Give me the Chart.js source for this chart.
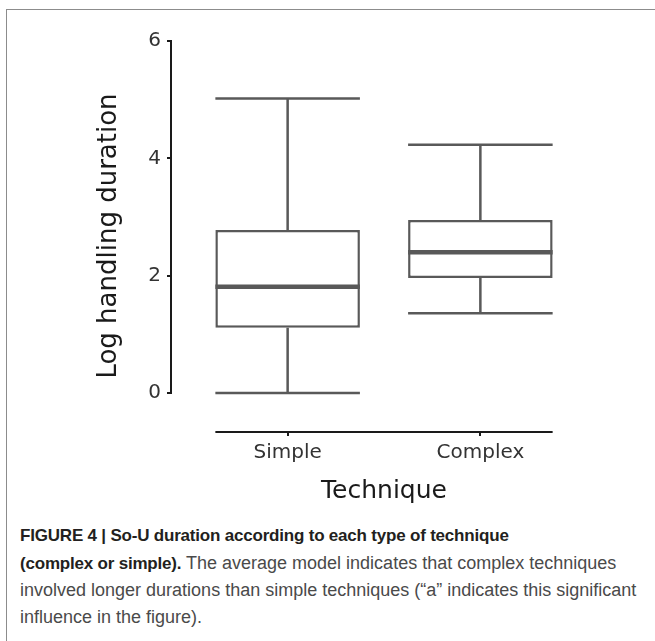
<!DOCTYPE html>
<html>
<head>
<meta charset="utf-8">
<script src="https://cdn.jsdelivr.net/npm/chart.js@4/dist/chart.umd.min.js"></script>
<style>
  body { margin: 0; background: #fff; width: 655px; height: 641px; overflow: hidden; position: relative; }
  #frame { position: absolute; left: 6px; top: 9px; right: 0; bottom: 0; border-top: 1.5px solid #8c8c8c; border-left: 1.5px solid #8c8c8c; }
  #myChart { position: absolute; left: 0; top: 0; }
  #caption { position: absolute; left: 20px; top: 522px; white-space: nowrap; font-family: "Liberation Sans", Arial, sans-serif; font-size: 18px; line-height: 26.5px; color: #4a4a4a; }
  #caption b { color: #231f20; font-size: 17px; letter-spacing: -0.2px; }
</style>
</head>
<body>
<div id="frame"></div>
<canvas id="myChart" width="655" height="520"></canvas>
<div id="caption"><b>FIGURE 4 | So-U duration according to each type of technique<br>(complex or simple).</b> The average model indicates that complex techniques<br>involved longer durations than simple techniques (“a” indicates this significant<br>influence in the figure).</div>
<script>
// boxplot stats
const categories = ["Simple", "Complex"];
const mins = [0.0, 1.36];
const q1s = [1.11, 1.96];
const medians = [1.81, 2.40];
const q3s = [2.78, 2.95];
const maxs = [5.02, 4.23];
const yTicks = [0, 2, 4, 6];

const half = 0.375;
const lineColor = "#595959";
const axisColor = "#1a1a1a";

var boxes = [];
var stems = [];
var caps = [];
var meds = [];

categories.forEach((c, i) => {
  const x = i + 1;
  boxes.push({ x: x, y: [q1s[i], q3s[i]] });
  stems.push({ x: x, y: q3s[i] }, { x: x, y: maxs[i] }, { x: x, y: null });
  stems.push({ x: x, y: q1s[i] }, { x: x, y: mins[i] }, { x: x, y: null });
  caps.push({ x: x - half, y: maxs[i] }, { x: x + half, y: maxs[i] }, { x: x, y: null });
  caps.push({ x: x - half, y: mins[i] }, { x: x + half, y: mins[i] }, { x: x, y: null });
  meds.push({ x: x - half, y: medians[i] }, { x: x + half, y: medians[i] }, { x: x, y: null });
});

// axis lines capped to the data range, like the ggplot original
const cappedAxes = {
  id: "cappedAxes",
  afterDraw(chart) {
    const { ctx, chartArea, scales } = chart;
    ctx.save();
    ctx.strokeStyle = axisColor;
    ctx.lineWidth = 2;
    ctx.beginPath();
    ctx.moveTo(chartArea.left - 1, scales.y.getPixelForValue(yTicks[yTicks.length - 1]));
    ctx.lineTo(chartArea.left - 1, scales.y.getPixelForValue(yTicks[0]));
    ctx.moveTo(scales.x.getPixelForValue(1 - half), chartArea.bottom + 1);
    ctx.lineTo(scales.x.getPixelForValue(categories.length + half), chartArea.bottom + 1);
    ctx.stroke();
    ctx.restore();
  },
};

const lineDefaults = {
  type: "line",
  borderColor: lineColor,
  borderWidth: 2.5,
  pointRadius: 0,
  fill: false,
  tension: 0,
  spanGaps: false,
};

const ctx = document.getElementById("myChart");
new Chart(ctx, {
  type: "line",
  data: {
    datasets: [
      {
        type: "bar",
        data: boxes,
        backgroundColor: "#ffffff",
        borderColor: lineColor,
        borderWidth: 2.5,
        borderSkipped: false,
        barPercentage: 2 * half,
        categoryPercentage: 1,
        order: 3,
      },
      Object.assign({}, lineDefaults, { data: stems, order: 2 }),
      Object.assign({}, lineDefaults, { data: caps, order: 1 }),
      Object.assign({}, lineDefaults, { data: meds, borderWidth: 4.5, order: 0 }),
    ],
  },
  options: {
    responsive: false,
    animation: false,
    devicePixelRatio: 1,
    layout: { padding: { top: 41, right: 59, left: 0, bottom: 0 } },
    plugins: { legend: { display: false }, tooltip: { enabled: false } },
    scales: {
      x: {
        type: "linear",
        min: 0.4,
        max: 2.6,
        offset: false,
        afterBuildTicks: (scale) => {
          scale.ticks = categories.map((c, i) => ({ value: i + 1 }));
        },
        afterFit: (scale) => {
          scale.height = 89;
        },
        ticks: {
          callback: (v) => categories[v - 1],
          color: "#333333",
          font: { family: "DejaVu Sans", size: 20 },
          padding: 5,
          maxRotation: 0,
        },
        grid: { offset: false, drawOnChartArea: false, tickLength: 5, color: axisColor, lineWidth: 2 },
        border: { display: false },
        title: {
          display: true,
          text: "Technique",
          color: axisColor,
          font: { family: "DejaVu Sans", size: 25 },
          padding: { top: 0, bottom: 14 },
        },
      },
      y: {
        min: -0.648,
        max: 6,
        afterBuildTicks: (scale) => {
          scale.ticks = yTicks.map((v) => ({ value: v }));
        },
        afterFit: (scale) => {
          scale.width = 172;
        },
        ticks: {
          color: "#333333",
          font: { family: "DejaVu Sans", size: 20 },
          padding: 6,
        },
        grid: { drawOnChartArea: false, tickLength: 5, color: axisColor, lineWidth: 2 },
        border: { display: false },
        title: {
          display: true,
          text: "Log handling duration",
          color: axisColor,
          font: { family: "DejaVu Sans", size: 26 },
          padding: { top: 94, bottom: 0 },
        },
      },
    },
  },
  plugins: [cappedAxes],
});
</script>
</body>
</html>
